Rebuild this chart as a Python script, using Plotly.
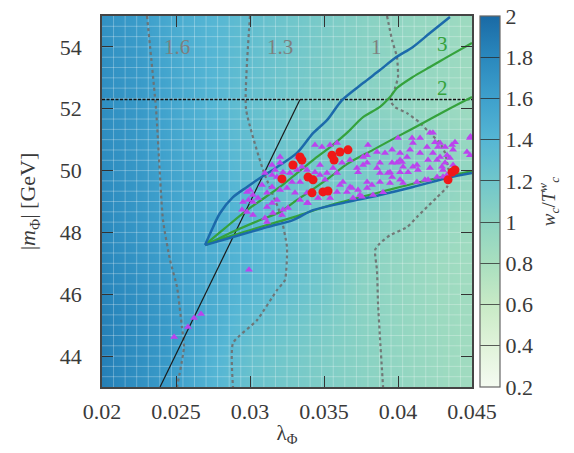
import numpy as np
import plotly.graph_objects as go

# ---------------- data ----------------
lam_grid = [0.020, 0.0225, 0.025, 0.0275, 0.030, 0.0325, 0.035, 0.0375, 0.040, 0.0425, 0.045]
m_grid = [43, 44, 45, 46, 47, 48, 49, 50, 51, 52, 53, 54, 55]
wc_ratio = [
    [1.86, 1.73, 1.605, 1.41, 1.26, 1.17, 1.10, 1.035, 0.975, 0.91, 0.86],
    [1.86, 1.74, 1.62, 1.43, 1.27, 1.18, 1.10, 1.035, 0.97, 0.91, 0.86],
    [1.85, 1.74, 1.62, 1.48, 1.32, 1.23, 1.13, 1.035, 0.965, 0.905, 0.86],
    [1.83, 1.73, 1.605, 1.49, 1.38, 1.29, 1.18, 1.03, 0.965, 0.90, 0.86],
    [1.81, 1.70, 1.585, 1.49, 1.40, 1.30, 1.20, 1.04, 0.97, 0.90, 0.86],
    [1.79, 1.68, 1.56, 1.48, 1.39, 1.28, 1.17, 1.07, 1.01, 0.94, 0.88],
    [1.78, 1.67, 1.555, 1.46, 1.37, 1.26, 1.17, 1.13, 1.06, 1.00, 0.93],
    [1.77, 1.67, 1.55, 1.45, 1.34, 1.24, 1.17, 1.15, 1.09, 1.025, 0.96],
    [1.76, 1.66, 1.54, 1.42, 1.31, 1.22, 1.15, 1.10, 1.065, 1.00, 0.93],
    [1.75, 1.66, 1.53, 1.40, 1.29, 1.20, 1.12, 1.05, 0.995, 0.935, 0.88],
    [1.74, 1.65, 1.52, 1.40, 1.295, 1.20, 1.12, 1.05, 1.00, 0.935, 0.88],
    [1.73, 1.64, 1.50, 1.40, 1.30, 1.21, 1.13, 1.05, 0.985, 0.93, 0.88],
    [1.72, 1.63, 1.49, 1.40, 1.30, 1.21, 1.13, 1.05, 0.98, 0.93, 0.88],
]

# dashed iso-lines of w_c/T_c^w
iso16_lam = [0.02304, 0.02365, 0.02412, 0.0246, 0.02507, 0.0254, 0.02554, 0.02507]
iso16_m = [55.0, 52.0, 48.4, 47.1, 46.23, 44.94, 44.3, 43.0]
iso13_lam = [0.0300, 0.02973, 0.03088, 0.03203, 0.0325, 0.03236, 0.03182, 0.03047, 0.02885, 0.02885]
iso13_m = [55.0, 52.0, 50.02, 48.62, 47.52, 46.46, 46.13, 45.16, 44.42, 43.0]
iso10_lam = [0.03926, 0.0396, 0.03993, 0.0400, 0.0398, 0.03946, 0.0398, 0.04061, 0.04149, 0.04216,
             0.04284, 0.04318, 0.04338, 0.04351, 0.04331, 0.04264, 0.04196, 0.04128, 0.04061,
             0.03946, 0.03878, 0.03845, 0.03858, 0.03865, 0.03878, 0.03892, 0.03899]
iso10_m = [55.0, 54.22, 53.67, 53.03, 52.67, 52.28, 52.05, 51.86, 51.54, 51.21,
           50.89, 50.57, 50.11, 49.79, 49.47, 49.14, 48.82, 48.5, 48.17,
           47.91, 47.65, 47.43, 46.78, 45.71, 44.61, 43.54, 43.0]

# region boundaries (blue)
blue_up_lam = [0.02696, 0.0275, 0.02797, 0.02885, 0.0298, 0.03068, 0.03182, 0.03318, 0.03426, 0.0352,
               0.03622, 0.03764, 0.03878, 0.0398, 0.04101, 0.04216, 0.04351]
blue_up_m = [47.59, 48.17, 48.62, 49.14, 49.47, 49.76, 50.11, 50.57, 51.21, 51.63,
             52.28, 52.83, 53.25, 53.64, 54.0, 54.45, 54.97]
blue_lo_lam = [0.02696, 0.02885, 0.03115, 0.0329, 0.03426, 0.03655, 0.03878, 0.04101, 0.04331, 0.045]
blue_lo_m = [47.59, 47.85, 48.17, 48.4, 48.72, 48.98, 49.21, 49.47, 49.76, 49.92]

# green lines
g3_lam = [0.02703, 0.02831, 0.0300, 0.03203, 0.03318, 0.03426, 0.03541, 0.03655, 0.03764, 0.03878,
          0.03946, 0.03993, 0.04101, 0.04216, 0.04331, 0.045]
g3_m = [47.63, 48.14, 48.79, 49.47, 49.92, 50.34, 50.76, 51.22, 51.73, 52.06,
        52.38, 52.67, 53.03, 53.35, 53.67, 54.13]
g2_lam = [0.02703, 0.02865, 0.03068, 0.03203, 0.03318, 0.03426, 0.03541, 0.03655, 0.03831, 0.03993,
          0.04169, 0.04331, 0.045]
g2_m = [47.59, 47.98, 48.4, 48.66, 49.05, 49.4, 49.79, 50.21, 50.67, 51.09, 51.54, 51.96, 52.38]
g1_lam = [0.0271, 0.02885, 0.03115, 0.03338, 0.03541, 0.03878, 0.04149, 0.045]
g1_m = [47.65, 47.91, 48.24, 48.56, 48.88, 49.3, 49.63, 49.98]

# black reference lines
hline_m = 52.3
diag_lam = [0.02392, 0.03338]
diag_m = [43.0, 52.3]

# scan points
tri_lam = [0.03149, 0.03203, 0.03169, 0.03101, 0.03149, 0.03182, 0.03223, 0.0327, 0.03318, 0.03351,
           0.03385, 0.03284, 0.03338, 0.0325, 0.03304, 0.03203, 0.03149, 0.03081, 0.03115, 0.0300,
           0.0302, 0.03054, 0.0298, 0.02953, 0.0302, 0.0298, 0.0302, 0.02946, 0.03115, 0.03149,
           0.03182, 0.03223, 0.03257, 0.03216, 0.03101, 0.03155, 0.03338, 0.03385,
           0.03439, 0.03486, 0.03541, 0.03588, 0.03797, 0.03858, 0.03912, 0.0396, 0.0400, 0.04014,
           0.04061, 0.03764, 0.03676, 0.03622, 0.03791, 0.0373, 0.03723, 0.03561, 0.03588, 0.03473,
           0.0352, 0.03473, 0.03439, 0.03507, 0.03858, 0.03878, 0.03932, 0.0396, 0.03993, 0.04027,
           0.04068, 0.04014, 0.03628, 0.03608, 0.03676, 0.03655, 0.0373, 0.03791, 0.03824, 0.03791,
           0.03588, 0.03541, 0.03696, 0.03743, 0.0346, 0.03385, 0.03392, 0.03757, 0.03899, 0.04034,
           0.03831,
           0.04095, 0.04149, 0.04216, 0.0425, 0.0427, 0.04196, 0.04101, 0.04081, 0.04149, 0.04236,
           0.04264, 0.04297, 0.04203, 0.04128, 0.04101, 0.04135, 0.04014, 0.04034, 0.04216, 0.04014,
           0.04128, 0.04203, 0.04304, 0.03946, 0.03791, 0.03764, 0.0396, 0.03878, 0.03946,
           0.04284, 0.04318, 0.04365, 0.04385, 0.04486, 0.04372, 0.04331, 0.04284, 0.04351, 0.04466,
           0.04486, 0.04318, 0.04372, 0.04304, 0.04182, 0.04331,
           0.03324, 0.03203, 0.0449, 0.0299, 0.03115, 0.04264, 0.03878, 0.03689, 0.04236,
           0.02993, 0.02487, 0.02581, 0.02622, 0.02669]
tri_m = [50.18, 50.25, 50.02, 49.92, 49.86, 49.79, 49.95, 49.92, 50.02, 50.12,
         50.02, 49.63, 49.63, 49.44, 49.28, 49.37, 49.47, 49.53, 49.28, 49.37,
         49.21, 49.11, 49.31, 48.98, 48.98, 48.66, 48.56, 48.73, 48.82, 48.95,
         49.05, 48.73, 48.79, 48.56, 48.47, 48.63, 49.05, 48.95,
         50.83, 50.76, 50.83, 50.89, 50.83, 50.6, 50.57, 50.67, 51.05, 50.57,
         50.44, 50.44, 50.34, 50.25, 50.25, 49.95, 50.08, 50.08, 49.92, 49.86,
         49.92, 50.18, 49.95, 49.7, 50.08, 49.92, 49.92, 50.25, 50.25, 50.28,
         49.95, 49.95, 49.63, 49.53, 49.47, 49.31, 49.37, 49.63, 49.53, 49.44,
         49.31, 49.11, 49.11, 49.21, 49.11, 49.28, 48.95, 49.15, 49.3, 49.6,
         49.21,
         51.05, 51.05, 51.22, 50.92, 50.76, 50.76, 50.89, 50.67, 50.57, 50.57,
         50.34, 50.12, 50.34, 50.18, 50.12, 50.02, 50.34, 50.12, 50.08, 49.7,
         49.63, 49.7, 49.8, 49.95, 50.5, 50.18, 49.79, 50.25, 49.6,
         50.89, 50.76, 50.83, 50.92, 51.05, 50.67, 50.5, 50.44, 50.41, 50.6,
         50.5, 50.25, 50.18, 50.02, 49.7, 49.86,
         50.44, 50.44, 51.1, 49.05, 48.34, 49.79, 49.63, 49.44, 51.22,
         46.79, 44.62, 44.94, 45.23, 45.36]
red_lam = [0.03338, 0.03351, 0.0329, 0.03216, 0.03554, 0.03568, 0.03608, 0.03662, 0.03392, 0.03426,
           0.03419, 0.03493, 0.03527, 0.04365, 0.04338, 0.04385]
red_m = [50.44, 50.34, 50.18, 49.73, 50.5, 50.34, 50.6, 50.67, 49.79, 49.7,
         49.28, 49.31, 49.34, 49.95, 49.7, 50.02]

x_ticks = [0.02, 0.025, 0.03, 0.035, 0.04, 0.045]
x_ticklabels = ["0.02", "0.025", "0.03", "0.035", "0.04", "0.045"]
y_ticks = [44, 46, 48, 50, 52, 54]
cb_ticks = [0.2, 0.4, 0.6, 0.8, 1.0, 1.2, 1.4, 1.6, 1.8, 2.0]
cb_ticklabels = ["0.2", "0.4", "0.6", "0.8", "1", "1.2", "1.4", "1.6", "1.8", "2"]

# ---------------- styling ----------------
FONT = "Liberation Serif, Times New Roman, serif"
TXT = "#3a3a3a"
colorscale = [
    [0.000, "#f5fbf1"], [0.111, "#e0f3da"], [0.222, "#c8eac6"], [0.333, "#a9dfbf"],
    [0.444, "#8ed4c2"], [0.556, "#70c6cb"], [0.667, "#55b6d4"], [0.778, "#3ea0cc"],
    [0.889, "#2a88bd"], [1.000, "#1a6aa5"],
]
XR = [0.02, 0.045]
YR = [43, 55]

fig = go.Figure()
fig.add_trace(go.Heatmap(
    x=lam_grid, y=m_grid, z=wc_ratio, zmin=0.2, zmax=2.0, zsmooth="best",
    colorscale=colorscale, hoverinfo="skip",
    colorbar=dict(
        x=1.0216, xanchor="left", xpad=0, y=0, yanchor="bottom", len=1, lenmode="fraction",
        ypad=0, thickness=20, outlinecolor="#666", outlinewidth=1.2,
        tickvals=cb_ticks, ticktext=cb_ticklabels, ticks="inside", ticklen=20,
        tickcolor="rgba(40,40,40,0.75)", tickwidth=1.3, tickprefix="\u2002\u2009",
        tickfont=dict(family=FONT, size=22, color=TXT),
        title=dict(text="<i>w<sub>c</sub></i>/<i>T</i><sup><i>w</i></sup><sub><i>c</i></sub>",
                   side="right", font=dict(family=FONT, size=19, color=TXT)),
    ),
))

# faint cell grid overlay (cosmetic, derived from the axis ranges)
gx, gy = [], []
for v in np.arange(XR[0], XR[1], (XR[1] - XR[0]) / 32)[1:]:
    gx += [v, v, None]; gy += [YR[0], YR[1], None]
for v in np.arange(YR[0], YR[1], 1 / 3)[1:]:
    gx += [XR[0], XR[1], None]; gy += [v, v, None]
fig.add_trace(go.Scatter(x=gx, y=gy, mode="lines", hoverinfo="skip",
                         line=dict(color="rgba(255,255,255,0.28)", width=1)))

dash_gray = dict(color="rgba(110,110,110,0.9)", width=2.2, dash="3px,3px", shape="spline", smoothing=0.5)
for lx, ly in [(iso16_lam, iso16_m), (iso13_lam, iso13_m), (iso10_lam, iso10_m)]:
    fig.add_trace(go.Scatter(x=lx, y=ly, mode="lines", line=dash_gray, hoverinfo="skip"))

fig.add_trace(go.Scatter(x=XR, y=[hline_m, hline_m], mode="lines",
                         line=dict(color="#111", width=1.6, dash="3px,1.5px"), hoverinfo="skip"))
fig.add_trace(go.Scatter(x=diag_lam, y=diag_m, mode="lines",
                         line=dict(color="#1a1a1a", width=1.2), hoverinfo="skip"))

GREEN = "#35a23c"
BLUE = "#1c6aab"
for lx, ly in [(g3_lam, g3_m), (g2_lam, g2_m), (g1_lam, g1_m)]:
    fig.add_trace(go.Scatter(x=lx, y=ly, mode="lines", hoverinfo="skip",
                             line=dict(color=GREEN, width=2.2, shape="spline", smoothing=0.8)))
for lx, ly in [(blue_up_lam, blue_up_m), (blue_lo_lam, blue_lo_m)]:
    fig.add_trace(go.Scatter(x=lx, y=ly, mode="lines", hoverinfo="skip",
                             line=dict(color=BLUE, width=2.5, shape="spline", smoothing=0.8)))

fig.add_trace(go.Scatter(x=tri_lam, y=tri_m, mode="markers", hoverinfo="skip",
                         marker=dict(symbol="triangle-up", size=7, color="#bb44ee", line=dict(width=0))))
fig.add_trace(go.Scatter(x=red_lam, y=red_m, mode="markers", hoverinfo="skip",
                         marker=dict(symbol="circle", size=9, color="#f01818", line=dict(width=0))))

ann = []
for txt, ax_, ay_, col in [("1.6", 0.02507, 54.0, "#7f7f7f"), ("1.3", 0.0320, 54.0, "#7f7f7f"),
                           ("1", 0.03858, 54.0, "#7f7f7f"), ("3", 0.0430, 54.1, GREEN),
                           ("2", 0.0430, 52.67, GREEN)]:
    ann.append(dict(x=ax_, y=ay_, text=txt, showarrow=False, xref="x", yref="y",
                    font=dict(family=FONT, size=21, color=col)))

axis_common = dict(showgrid=False, zeroline=False, ticks="inside", ticklen=11, tickwidth=1.4,
                   tickcolor="#333", mirror="ticks", showline=True, linecolor="#444", linewidth=1.6,
                   automargin=False, tickfont=dict(family=FONT, size=22, color=TXT))
fig.update_layout(
    width=574, height=453, margin=dict(l=102, r=102, t=16, b=66, autoexpand=False),
    paper_bgcolor="white", plot_bgcolor="white", showlegend=False,
    annotations=ann,
    xaxis=dict(range=XR, tickvals=x_ticks, ticktext=x_ticklabels, ticklabelstandoff=4,
               title=dict(text="λ<sub>Φ</sub>", standoff=2, font=dict(family=FONT, size=21, color=TXT)),
               **axis_common),
    yaxis=dict(range=YR, tickvals=y_ticks, ticklabelstandoff=14,
               title=dict(text="|<i>m</i><sub>Φ</sub>| [GeV]", standoff=18,
                          font=dict(family=FONT, size=22, color=TXT)),
               **axis_common),
)
fig.write_html("out.html", config={"displayModeBar": False},
               post_script="document.body.style.margin='0';")
